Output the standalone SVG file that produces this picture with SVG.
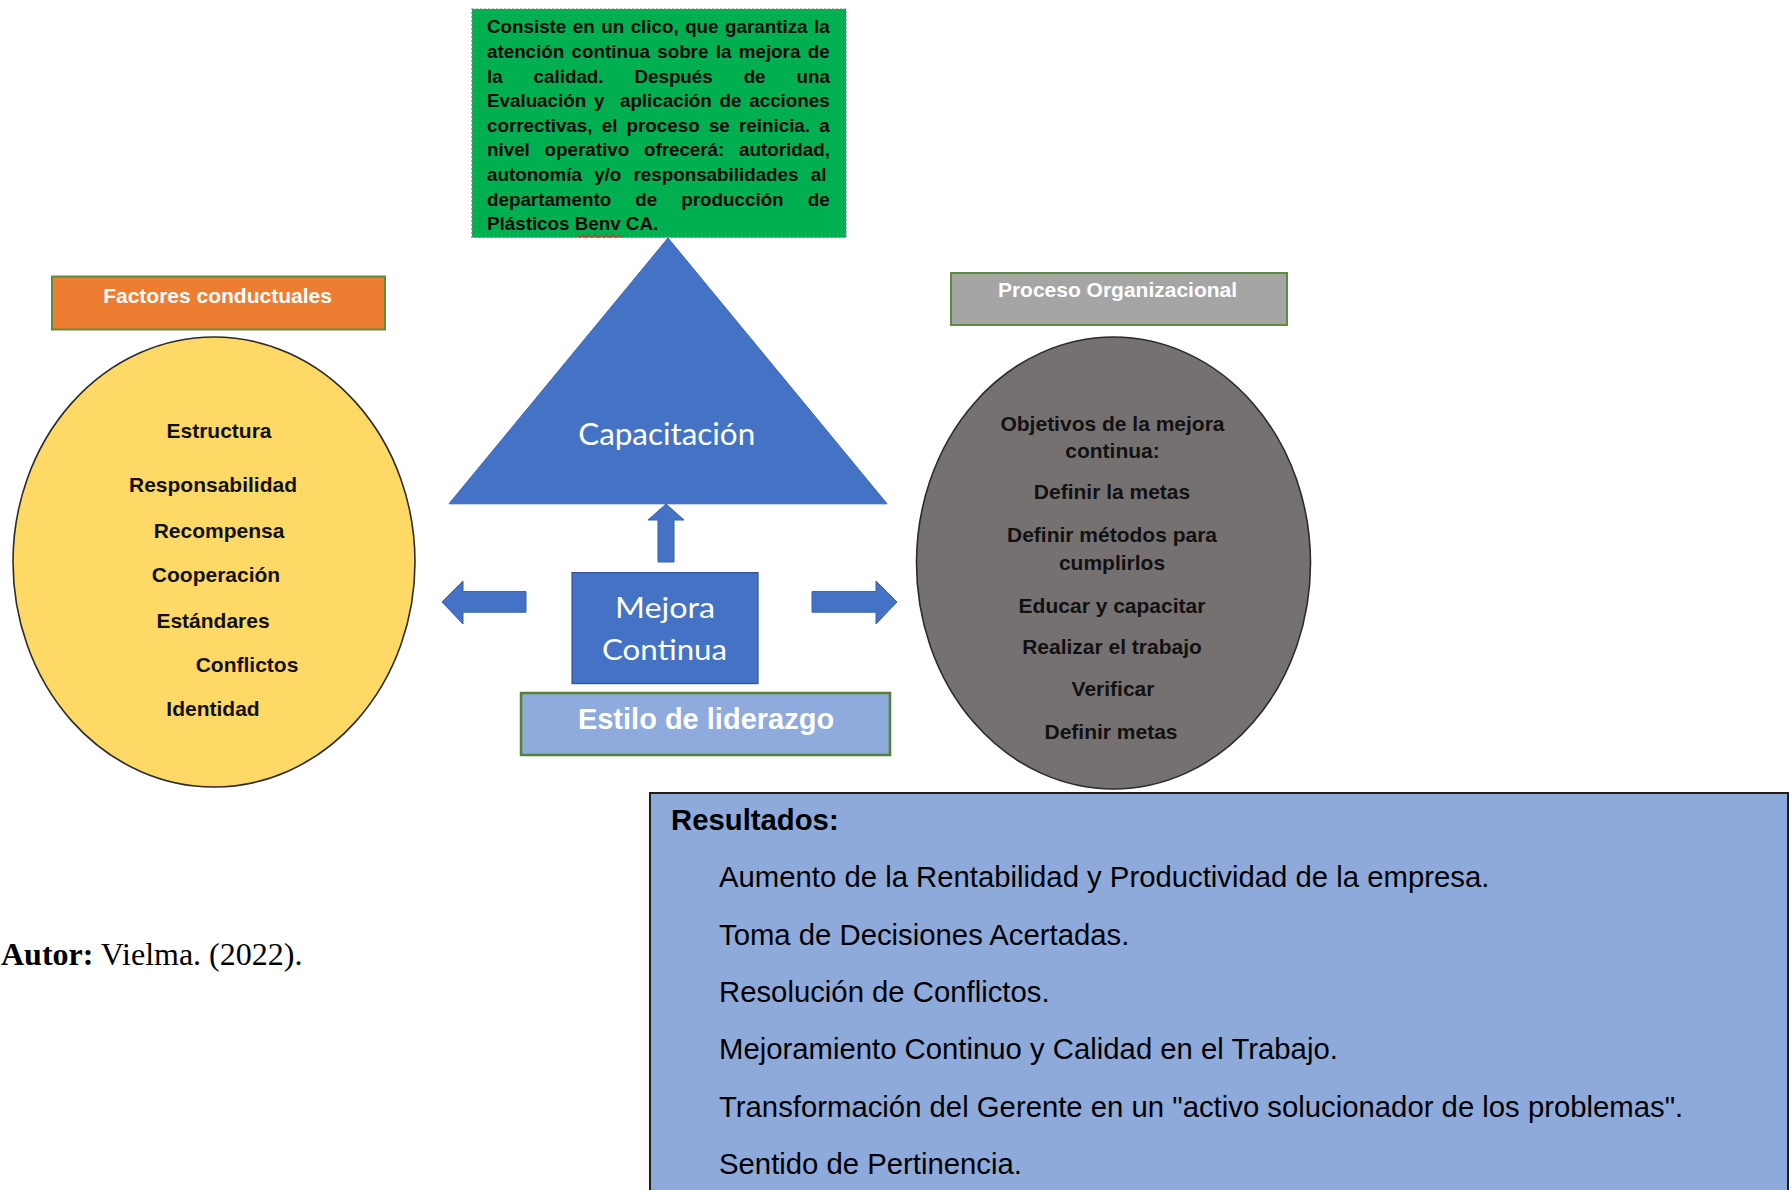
<svg xmlns="http://www.w3.org/2000/svg" width="1791" height="1190" viewBox="0 0 1791 1190">
  <defs>
    <style>
      .sans { font-family: "Liberation Sans", Arial, sans-serif; }
      .b { font-weight: bold; }
      .gtxt { font-family: "Liberation Sans", Arial, sans-serif; font-weight: bold; font-size: 18.8px; fill: #0a0a0a; }
      .etxt { font-family: "Liberation Sans", Arial, sans-serif; font-weight: bold; font-size: 21px; fill: #111; text-anchor: middle; }
      .htxt { font-family: "Liberation Sans", Arial, sans-serif; font-weight: bold; font-size: 21px; fill: #fff; text-anchor: middle; }
      .cal { font-family: Lato, "Open Sans", sans-serif; fill: #fff; text-anchor: middle; }
      .res { font-family: "Liberation Sans", Arial, sans-serif; font-size: 29.3px; fill: #000; }
      .arrow { fill: #4472C4; stroke: #3560B0; stroke-width: 1; }
    </style>
  </defs>

  <g id="descripcion">
    <rect x="472" y="9" width="374" height="228.5" fill="#00B050" stroke="#7F7F7F" stroke-width="1.2" stroke-dasharray="2,2"/>
    <text class="gtxt" x="487" y="33.3" word-spacing="1.27">Consiste en un clico, que garantiza la</text>
    <text class="gtxt" x="487" y="57.9" word-spacing="2.15">atención continua sobre la mejora de</text>
    <text class="gtxt" x="487" y="82.5" word-spacing="25.7">la calidad. Después de una</text>
    <text class="gtxt" x="487" y="107.1" word-spacing="2.56" style="white-space:pre">Evaluación y  aplicación de acciones</text>
    <text class="gtxt" x="487" y="131.7" word-spacing="4.02">correctivas, el proceso se reinicia. a</text>
    <text class="gtxt" x="487" y="156.3" word-spacing="9.58">nivel operativo ofrecerá: autoridad,</text>
    <text class="gtxt" x="487" y="180.9" word-spacing="7.01">autonomía y/o responsabilidades al</text>
    <text class="gtxt" x="487" y="205.5" word-spacing="18.9">departamento de producción de</text>
    <text class="gtxt" x="487" y="230">Plásticos Benv CA.</text>
    <path d="M577 235 l3 2.5 l3 -2.5 l3 2.5 l3 -2.5 l3 2.5 l3 -2.5 l3 2.5 l3 -2.5 l3 2.5 l3 -2.5 l3 2.5 l3 -2.5 l3 2.5 l3 -2.5 l3 2.5" fill="none" stroke="#E03030" stroke-width="1.3"/>
  </g>

  <g id="factores-titulo">
    <rect x="52" y="276.5" width="333" height="53" fill="#ED7D31" stroke="#5E8B3E" stroke-width="2"/>
    <text class="htxt" x="217.5" y="303">Factores conductuales</text>
  </g>

  <g id="factores">
    <ellipse cx="214" cy="562" rx="201" ry="225" fill="#FFD966" stroke="#2b2b2b" stroke-width="1.6"/>
    <text class="etxt" x="219" y="438">Estructura</text>
    <text class="etxt" x="213" y="492.4">Responsabilidad</text>
    <text class="etxt" x="219" y="538">Recompensa</text>
    <text class="etxt" x="216" y="582">Cooperación</text>
    <text class="etxt" x="213" y="627.8">Estándares</text>
    <text class="etxt" x="247" y="671.5">Conflictos</text>
    <text class="etxt" x="213" y="716">Identidad</text>
  </g>

  <g id="proceso-titulo">
    <rect x="951" y="273" width="336" height="52" fill="#A5A5A5" stroke="#5E8B3E" stroke-width="2"/>
    <text class="htxt" x="1117.5" y="297">Proceso Organizacional</text>
  </g>

  <g id="proceso">
    <ellipse cx="1113.5" cy="563" rx="197" ry="226" fill="#767171" stroke="#2b2b2b" stroke-width="1.6"/>
    <text class="etxt" x="1112.5" y="430.5">Objetivos de la mejora</text>
    <text class="etxt" x="1112.5" y="458">continua:</text>
    <text class="etxt" x="1112" y="499.3">Definir la metas</text>
    <text class="etxt" x="1112" y="542.4">Definir métodos para</text>
    <text class="etxt" x="1112" y="570">cumplirlos</text>
    <text class="etxt" x="1112" y="613">Educar y capacitar</text>
    <text class="etxt" x="1112" y="654.3">Realizar el trabajo</text>
    <text class="etxt" x="1113" y="695.6">Verificar</text>
    <text class="etxt" x="1111" y="738.6">Definir metas</text>
  </g>

  <g id="capacitacion">
    <polygon points="668,238 887,503.8 449,503.8" fill="#4472C4" stroke="#3A66B8" stroke-width="1"/>
    <text class="cal" x="666.7" y="445" font-size="30" textLength="177" lengthAdjust="spacingAndGlyphs">Capacitación</text>
  </g>

  <g id="mejora">
    <rect x="572" y="572.6" width="186" height="111" fill="#4472C4" stroke="#2F5597" stroke-width="1.2"/>
    <text class="cal" x="665" y="618.4" font-size="29" textLength="100" lengthAdjust="spacingAndGlyphs">Mejora</text>
    <text class="cal" x="664.5" y="659.7" font-size="29" textLength="125" lengthAdjust="spacingAndGlyphs">Continua</text>
  </g>

  <g id="liderazgo">
    <rect x="521" y="693" width="369" height="62" fill="#8FAADC" stroke="#548235" stroke-width="2.5"/>
    <text class="sans b" x="706" y="729" font-size="29" fill="#fff" text-anchor="middle">Estilo de liderazgo</text>
  </g>

  <g id="conectores">
    <polygon class="arrow" points="666,504 684,520 674,520 674,562 658,562 658,520 648,520"/>
    <polygon class="arrow" points="442,602 463,581 463,591.6 526,591.6 526,612.2 463,612.2 463,624"/>
    <polygon class="arrow" points="897,602 876,581 876,591.6 812,591.6 812,612.2 876,612.2 876,624"/>
  </g>

  <g id="resultados">
    <rect x="650" y="793" width="1138" height="420" fill="#8EAADB" stroke="#1e1e1e" stroke-width="2"/>
    <text class="res b" x="671" y="830">Resultados:</text>
    <text class="res" x="719" y="887">Aumento de la Rentabilidad y Productividad de la empresa.</text>
    <text class="res" x="719" y="944.5">Toma de Decisiones Acertadas.</text>
    <text class="res" x="719" y="1002">Resolución de Conflictos.</text>
    <text class="res" x="719" y="1059">Mejoramiento Continuo y Calidad en el Trabajo.</text>
    <text class="res" x="719" y="1116.5">Transformación del Gerente en un "activo solucionador de los problemas".</text>
    <text class="res" x="719" y="1174">Sentido de Pertinencia.</text>
  </g>

  <g id="autor">
    <text x="1" y="965" font-family="'Liberation Serif', 'Times New Roman', serif" font-size="32" fill="#000"><tspan font-weight="bold">Autor:</tspan> Vielma. (2022).</text>
  </g>
</svg>
